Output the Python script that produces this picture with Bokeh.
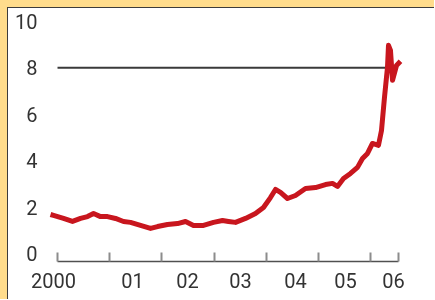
from bokeh.plotting import figure
from bokeh.models import LinearAxis, FixedTicker, Range1d
from bokeh.embed import file_html
from bokeh.resources import INLINE

# ---- data ----
dates = [1999.866, 1999.923, 2000.115, 2000.287, 2000.441, 2000.575, 2000.690,
         2000.824, 2000.958, 2001.111, 2001.264, 2001.398, 2001.590, 2001.782,
         2001.916, 2002.107, 2002.299, 2002.452, 2002.605, 2002.797, 2002.989,
         2003.161, 2003.276, 2003.410, 2003.602, 2003.793, 2003.946, 2004.080,
         2004.176, 2004.272, 2004.406, 2004.559, 2004.751, 2004.943, 2005.134,
         2005.268, 2005.364, 2005.479, 2005.613, 2005.747, 2005.843, 2005.939,
         2006.034, 2006.149, 2006.207, 2006.264, 2006.322, 2006.341, 2006.379,
         2006.418, 2006.494, 2006.571]
values = [1.68, 1.64, 1.51, 1.38, 1.51, 1.59, 1.72,
          1.59, 1.59, 1.51, 1.38, 1.34, 1.21, 1.08,
          1.16, 1.25, 1.29, 1.38, 1.21, 1.21, 1.34,
          1.42, 1.38, 1.34, 1.51, 1.72, 1.98, 2.41,
          2.76, 2.63, 2.37, 2.50, 2.80, 2.84, 2.97,
          3.02, 2.89, 3.23, 3.45, 3.71, 4.09, 4.31,
          4.74, 4.66, 5.30, 6.72, 8.02, 8.97, 8.75,
          7.46, 8.10, 8.28]

y_ticks = [0, 2, 4, 6, 8, 10]
year_ticks = [2000, 2001, 2002, 2003, 2004, 2005, 2006, 2006.53]
label_pos = [1999.923, 2001.437, 2002.490, 2003.506, 2004.559, 2005.517, 2006.437]
labels = ["2000", "01", "02", "03", "04", "05", "06"]
ref_level = 8
ref_start = 2000.0
ref_end = 2006.31

FONT = "Roboto"
FSIZE = "20px"
TXT = "#333333"
YELLOW = "#FFDC8C"

p = figure(width=427, height=292, output_backend="svg", toolbar_location=None,
           x_axis_type=None,
           x_range=Range1d(1999.789, 2006.686), y_range=Range1d(-0.345, 10.47),
           min_border_left=38, min_border_right=29, min_border_top=2,
           min_border_bottom=39)
p.outline_line_color = None
p.background_fill_color = "white"
p.border_fill_color = "white"
p.grid.visible = False
p.styles = {
    "position": "fixed", "left": "7px", "top": "7px",
    "border-left": "1px solid #3c3c3c", "border-top": "1px solid #3c3c3c",
    "box-shadow": f"-7px -7px 0 0 {YELLOW}, 0 -7px 0 0 {YELLOW}, -7px 0 0 0 {YELLOW}",
}

p.segment(x0=ref_start, y0=ref_level, x1=ref_end, y1=ref_level,
          line_color="#3a3a3a", line_width=2)
p.line(dates, values, line_color="#C8161E", line_width=5, line_join="round")

# y axis
ya = p.yaxis[0]
ya.ticker = FixedTicker(ticks=y_ticks)
ya.axis_line_color = None
ya.major_tick_line_color = None
ya.minor_tick_line_color = None
ya.major_label_standoff = 3
ya.major_label_text_font = FONT
ya.major_label_text_font_size = FSIZE
ya.major_label_text_color = TXT

# x axis: line + year-boundary ticks
ax1 = LinearAxis(ticker=FixedTicker(ticks=[], minor_ticks=year_ticks),
                 bounds=(2000, 2006.53),
                 axis_line_color="#505050", axis_line_width=1.5,
                 major_tick_line_color=None,
                 minor_tick_in=9, minor_tick_out=0,
                 minor_tick_line_color="#8c8c8c", minor_tick_line_width=2,
                 major_label_text_font_size="0px", major_label_standoff=0)
# x axis: labels centred within years
ax2 = LinearAxis(ticker=FixedTicker(ticks=label_pos),
                 axis_line_color=None, major_tick_line_color=None,
                 minor_tick_line_color=None,
                 major_tick_in=0, major_tick_out=0,
                 major_label_overrides={pos: lab for pos, lab in zip(label_pos, labels)},
                 major_label_standoff=11,
                 major_label_text_font=FONT,
                 major_label_text_font_size=FSIZE,
                 major_label_text_color=TXT)
p.add_layout(ax1, "below")
p.add_layout(ax2, "below")

open("out.html", "w").write(file_html(p, INLINE))
